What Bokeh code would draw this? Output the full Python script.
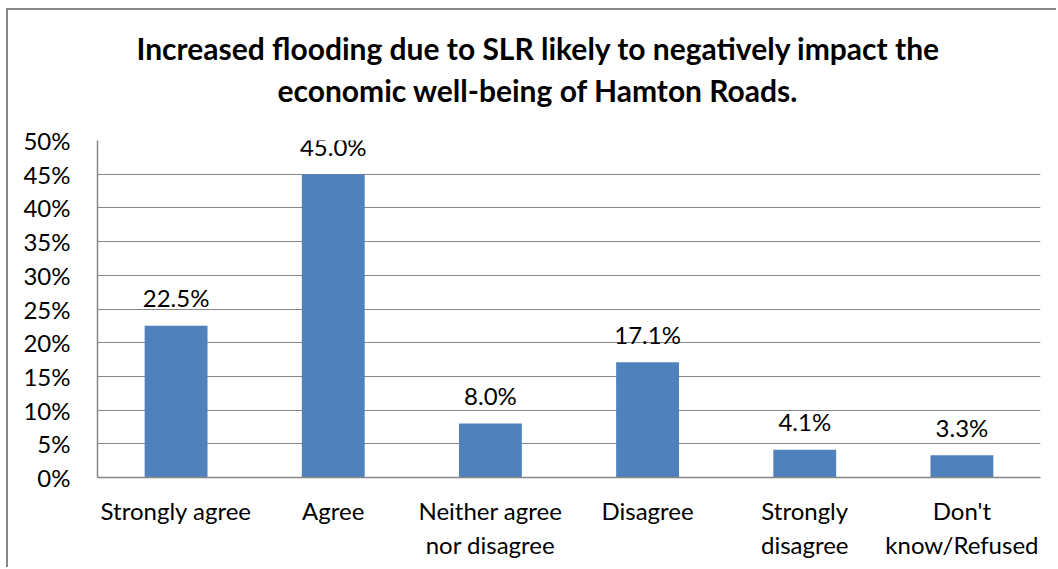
from bokeh.plotting import figure
from bokeh.models import Range1d, NumeralTickFormatter, FixedTicker, Title, ColumnDataSource
from bokeh.core.properties import value
from bokeh.embed import file_html
from bokeh.resources import INLINE

categories = ["Strongly agree", "Agree", "Neither agree\nnor disagree", "Disagree",
              "Strongly\ndisagree", "Don't\nknow/Refused"]
percents = [22.5, 45.0, 8.0, 17.1, 4.1, 3.3]
labels = [f"{v:.1f}%" for v in percents]
title_lines = ["Increased flooding due to SLR likely to negatively impact the",
               "economic well-being of Hamton Roads."]
y_ticks = [0, 0.05, 0.10, 0.15, 0.20, 0.25, 0.30, 0.35, 0.40, 0.45, 0.50]

FONT = "Lato"
GRAY = "#868686"

src = ColumnDataSource(dict(cat=categories, y=[v / 100 for v in percents], lab=labels))

p = figure(x_range=categories, y_range=Range1d(0, 0.5), frame_width=943, frame_height=337,
           output_backend="svg", toolbar_location=None, title=None,
           min_border_left=89, min_border_right=16, min_border_top=130, min_border_bottom=90)
p.styles = {"border-left": f"2px solid {GRAY}", "border-top": f"2px solid {GRAY}",
            "margin-left": "6px", "margin-top": "8px"}

p.vbar(x="cat", top="y", width=0.4, source=src, color="#4F81BD", line_color=None)
p.text(x="cat", y="y", text="lab", source=src, text_align="center", text_baseline="alphabetic",
       y_offset=-28, text_font=value(FONT), text_font_size="24px", text_color="black")

p.outline_line_color = None
p.xgrid.grid_line_color = None
p.ygrid.grid_line_color = GRAY
p.ygrid.grid_line_width = 1

p.yaxis.ticker = FixedTicker(ticks=y_ticks)
p.yaxis.formatter = NumeralTickFormatter(format="0%")
p.yaxis.major_tick_out = 0
p.yaxis.major_tick_in = 0
p.yaxis.minor_tick_line_color = None
p.yaxis.major_label_standoff = 27
p.yaxis.axis_line_color = GRAY
p.yaxis.axis_line_width = 1.5

p.xaxis.major_tick_out = 0
p.xaxis.major_tick_in = 0
p.xaxis.major_label_standoff = 18
p.xaxis.axis_line_color = GRAY
p.xaxis.axis_line_width = 1.5

for ax in (p.xaxis, p.yaxis):
    ax.major_label_text_font = FONT
    ax.major_label_text_font_size = "24px"
    ax.major_label_text_color = "black"

# spacer between the frame and the title block
p.add_layout(Title(text=" ", text_font_size="1px", standoff=28), "above")
# second line first (nearest the frame), then the first line above it
for line, off in [(title_lines[1], 180), (title_lines[0], 39)]:
    p.add_layout(Title(text=line, align="left", offset=off, text_font=FONT,
                       text_font_style="bold", text_font_size="30px", text_color="black",
                       standoff=4), "above")

open("out.html", "w").write(file_html(p, INLINE))
